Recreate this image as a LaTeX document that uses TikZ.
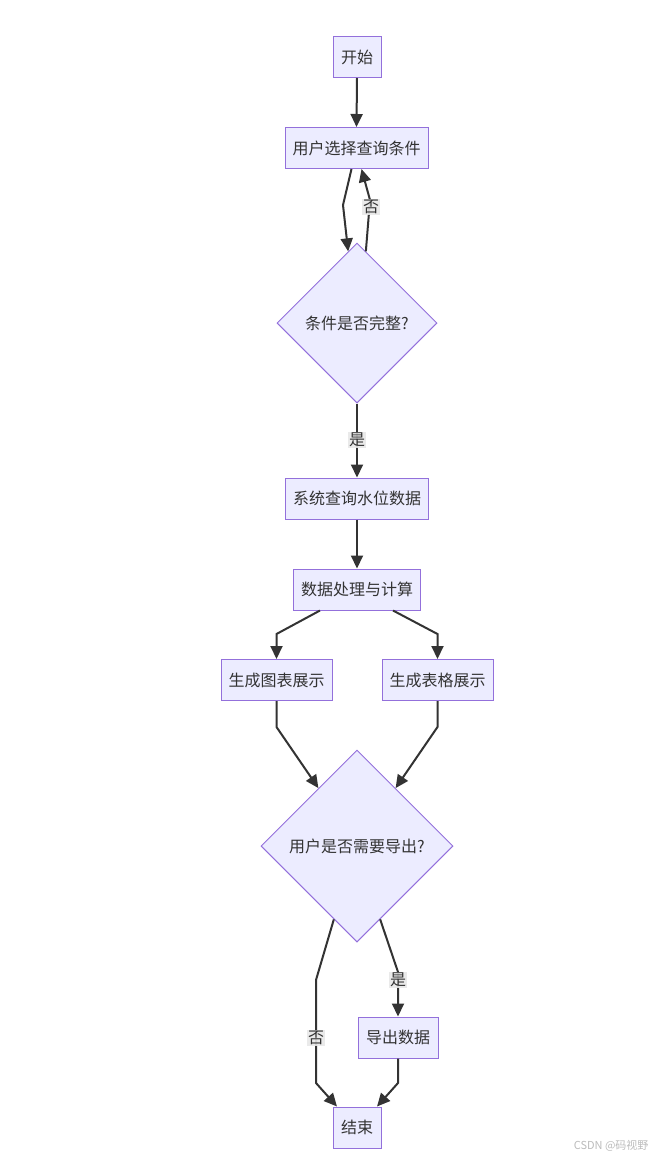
\documentclass[tikz,border=0pt]{standalone}
\usepackage{fontspec}
\setmainfont{Noto Sans CJK SC}
\usetikzlibrary{shapes.geometric,arrows.meta,calc}
\definecolor{nodefill}{HTML}{ECECFF}
\definecolor{nodestroke}{HTML}{9370DB}
\definecolor{linec}{HTML}{333333}
\definecolor{lblbg}{HTML}{E8E8E8}
\definecolor{wm}{HTML}{BBBBBB}
\tikzset{
  box/.style={draw=nodestroke, fill=nodefill, line width=1pt, text=linec,
    font=\fontsize{16}{19}\selectfont, inner sep=0pt, minimum height=41pt},
  dia/.style={diamond, draw=nodestroke, fill=nodefill, line width=1pt, text=linec,
    font=\fontsize{16}{19}\selectfont, inner sep=0pt, aspect=1},
  arr/.style={draw=linec, line width=2pt, -{Triangle[length=13pt,width=12pt]}},
  lbl/.style={fill=lblbg, fill opacity=0.9, text opacity=1, text=linec,
    font=\fontsize{16}{19}\selectfont, inner sep=1pt},
}
\begin{document}
\begin{tikzpicture}[x=1pt,y=-1pt]
\useasboundingbox (0,0) rectangle (658,1160);
\node[box, minimum width=48pt] (n1) at (357,57) {开始};
\node[box, minimum width=143pt] (n2) at (356.5,148) {用户选择查询条件};
\node[dia, minimum width=160pt, minimum height=160pt] (d1) at (357,323) {条件是否完整?};
\node[box, minimum width=143pt] (n3) at (357,498.5) {系统查询水位数据};
\node[box, minimum width=127pt] (n4) at (357,589.5) {数据处理与计算};
\node[box, minimum width=111pt] (n5) at (276.5,680) {生成图表展示};
\node[box, minimum width=111pt] (n6) at (437.5,680) {生成表格展示};
\node[dia, minimum width=192pt, minimum height=192pt] (d2) at (357,846) {用户是否需要导出?};
\node[box, minimum width=80pt] (n7) at (398,1037.5) {导出数据};
\node[box, minimum width=48pt] (n8) at (357,1127.5) {结束};

\coordinate (c2) at (343,205);
\coordinate (c3) at (370,200);
\coordinate (c6) at (276.5,634);
\coordinate (c7) at (437.5,634);
\coordinate (c8) at (276.5,727);
\coordinate (c9) at (437.5,727);
\coordinate (c10a) at (316,980);
\coordinate (c10b) at (316,1083);
\coordinate (c11) at (398,972);
\coordinate (c12) at (398,1083);

\draw[arr] (n1.south) -- (n2.north);
\draw[arr] ([xshift=-5pt]n2.south) -- (c2) -- ($(d1.north)!0.11!(d1.west)$);
\draw[arr] ($(d1.north)!0.11!(d1.east)$) -- (c3) -- ([xshift=5pt]n2.south);
\draw[arr] (d1.south) -- (n3.north);
\draw[arr] (n3.south) -- (n4.north);
\draw[arr] ([xshift=-37pt]n4.south) -- (c6) -- (n5.north);
\draw[arr] ([xshift=36pt]n4.south) -- (c7) -- (n6.north);
\draw[arr] (n5.south) -- (c8) -- ($(d2.north)!0.4!(d2.west)$);
\draw[arr] (n6.south) -- (c9) -- ($(d2.north)!0.4!(d2.east)$);
\draw[arr] ($(d2.south)!0.24!(d2.west)$) -- (c10a) -- (c10b) -- ([xshift=-20pt]n8.north);
\draw[arr] ($(d2.south)!0.24!(d2.east)$) -- (c11) -- (n7.north);
\draw[arr] (n7.south) -- (c12) -- ([xshift=20pt]n8.north);

\node[lbl] (l1) at (371,207) {否};
\node[lbl] (l2) at (357,440) {是};
\node[lbl] (l3) at (316,1038) {否};
\node[lbl] (l4) at (398,980) {是};

\node[text=wm, font=\fontsize{11}{13}\selectfont, anchor=east] (wmk) at (652,1146) {CSDN @码视野};
\end{tikzpicture}
\end{document}
